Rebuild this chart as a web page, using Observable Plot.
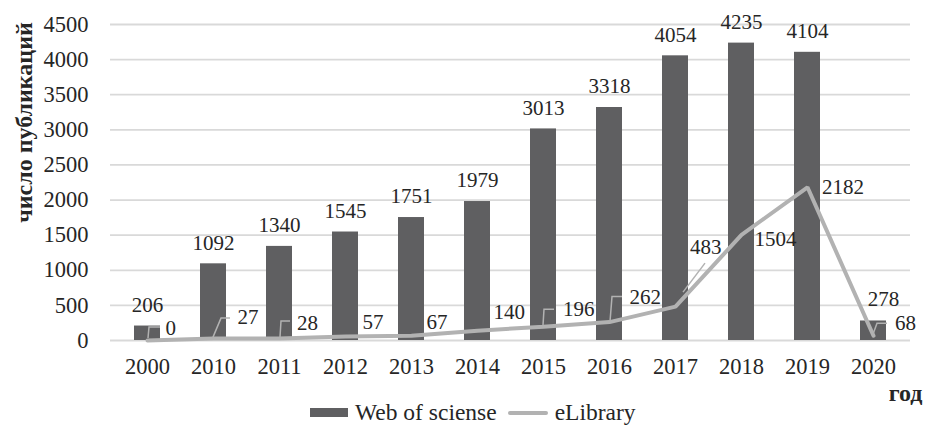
<!DOCTYPE html>
<html><head><meta charset="utf-8">
<script src="https://cdn.jsdelivr.net/npm/d3@7"></script>
<script src="https://cdn.jsdelivr.net/npm/@observablehq/plot@0.6"></script>
<style>
body{margin:0;background:#fff;font-family:"Liberation Serif","Times New Roman",serif;color:#262626;}
#chart{width:925px;}
#chart svg{overflow:visible;display:block;}
.legend{height:25px;display:flex;align-items:center;padding-left:310px;font-size:23.5px;box-sizing:border-box;}
.legend .sw{display:inline-block;margin-right:7px;}
.legend .item{display:flex;align-items:center;margin-right:11px;}
</style></head><body><div id="chart"></div><script>
const years = ["2000","2010","2011","2012","2013","2014","2015","2016","2017","2018","2019","2020"];
const wos = [206,1092,1340,1545,1751,1979,3013,3318,4054,4235,4104,278];
const elibrary = [0,27,28,57,67,140,196,262,483,1504,2182,68];
const yTicks = [0,500,1000,1500,2000,2500,3000,3500,4000,4500];
const seriesNames = ["Web of sciense","eLibrary"];
const yTitle = "число публикаций";
const xTitle = "год";

const data = years.map((y,i)=>({year:y, wos:wos[i], elib:elibrary[i]}));

// label placement (pixel offsets from each eLibrary point), styling only
const elibLabelOffsets = [[18,-12],[24,-21],[17.5,-15],[17,-14],[15,-14],[16,-18],[19.5,-17],[20,-25],[14.5,-59],[13,4],[14.5,0],[21.5,-12]];
const elibLeaders = [
  [[1,-2],[2,-13],[13,-13]],
  [[0,-1],[8,-20],[17,-20]],
  [[1,-1],[2,-17],[11,-17]],
  null,null,null,
  [[0,-1],[1,-17],[11,-17]],
  [[1,0],[3,-25],[13,-25]],
  [[8,-14],[30,-43]],
  null,null,
  [[0,-1],[4,-12],[14,-12]]
];

const barColor = "#5f5f61";
const lineColor = "#b2b2b2";
const textColor = "#262626";

function leaders(index, scales) {
  const g = d3.create("svg:g");
  const bw = scales.x.bandwidth ? scales.x.bandwidth()/2 : 0;
  data.forEach((d,i)=>{
    const L = elibLeaders[i];
    if (!L) return;
    const cx = scales.x(d.year) + bw, cy = scales.y(d.elib);
    g.append("path")
      .attr("d", "M" + L.map(p=>(cx+p[0])+","+(cy+p[1])).join("L"))
      .attr("fill","none").attr("stroke", lineColor).attr("stroke-width",1.5);
  });
  return g.node();
}

const plot = Plot.plot({
  width: 925, height: 400,
  marginLeft: 110, marginRight: 15, marginTop: 24, marginBottom: 60,
  style: {fontFamily: "'Liberation Serif', 'Times New Roman', serif", fontSize: "22.5px", color: textColor, background: "#fff", overflow: "visible"},
  x: {domain: years, paddingInner: 0.61, paddingOuter: 0.305, tickSize: 0, tickPadding: 18, label: null},
  y: {domain: [0,4500], ticks: yTicks, tickSize: 0, tickPadding: 22, tickFormat: d=>String(d), label: null},
  marks: [
    Plot.ruleY(yTicks, {stroke: "#d9d9d9", strokeWidth: 1.8}),
    Plot.barY(data, {x: "year", y: "wos", fill: barColor}),
    Plot.line(data, {x: "year", y: "elib", stroke: lineColor, strokeWidth: 4, strokeLinejoin: "miter"}),
    leaders,
    Plot.text(data.slice(0,11), {x: "year", y: "wos", text: d=>String(d.wos), dy: -21, fontSize: 21, fill: textColor}),
    Plot.text(data.slice(11), {x: "year", y: "wos", text: d=>String(d.wos), dy: -22, dx: 10, fontSize: 21, fill: textColor}),
    ...data.map((d,i)=>Plot.text([d], {x: "year", y: "elib", text: d=>String(d.elib), textAnchor: "start", dx: elibLabelOffsets[i][0], dy: elibLabelOffsets[i][1], fontSize: 21, fill: textColor})),
    Plot.text([yTitle], {frameAnchor: "left", textAnchor: "middle", lineAnchor: "middle", rotate: -90, dx: -86, dy: -60, fontWeight: "bold", fontSize: 24, fill: textColor}),
    Plot.text([xTitle], {frameAnchor: "bottom-right", textAnchor: "end", lineAnchor: "middle", dx: 12, dy: 53, fontWeight: "bold", fontSize: 24, fill: textColor})
  ]
});
document.getElementById("chart").appendChild(plot);

const legend = document.createElement("div");
legend.className = "legend";
legend.innerHTML =
  `<span class="item"><span class="sw" style="width:38px;height:9px;background:${barColor}"></span>${seriesNames[0]}</span>` +
  `<span class="item"><span class="sw" style="width:40px;height:4px;background:${lineColor};border-radius:2px"></span>${seriesNames[1]}</span>`;
document.getElementById("chart").appendChild(legend);
</script></body></html>
